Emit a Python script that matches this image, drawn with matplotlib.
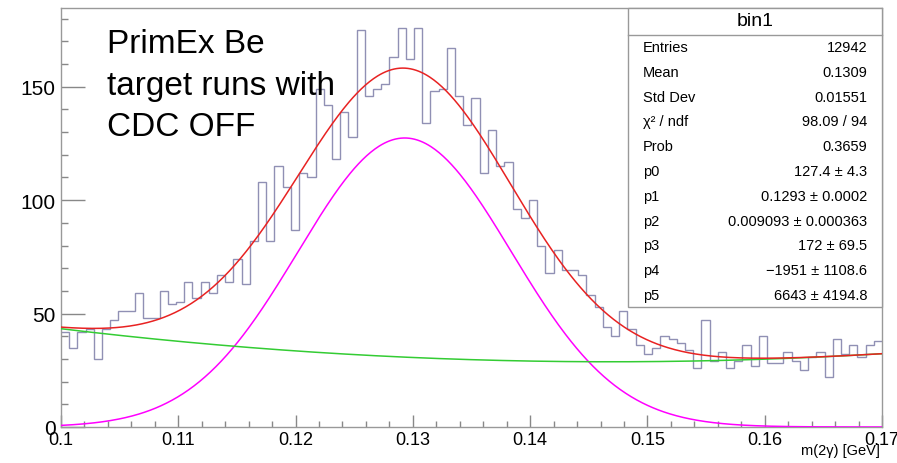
import numpy as np
import matplotlib
matplotlib.use("Agg")
import matplotlib.pyplot as plt

# histogram: 100 bins from 0.1 to 0.17 GeV (counts)
x_lo, x_hi, n_bins = 0.1, 0.17, 100
counts = [
    42, 35, 42, 43, 30, 43, 47, 51, 51, 59,
    48, 48, 60, 54, 55, 64, 57, 64, 59, 67,
    64, 74, 63, 82, 108, 82, 115, 106, 87, 112,
    110, 149, 142, 118, 139, 128, 175, 146, 149, 151,
    163, 176, 162, 176, 134, 148, 149, 167, 146, 133,
    145, 112, 131, 115, 117, 96, 92, 100, 80, 68,
    78, 69, 69, 67, 58, 53, 44, 40, 51, 43,
    36, 32, 35, 40, 39, 37, 34, 26, 47, 29,
    33, 26, 29, 36, 27, 40, 28, 28, 33, 29,
    25, 31, 33, 22, 39, 32, 36, 31, 36, 38,
]

# fit parameters from the stat box: gaus(p0,p1,p2) + pol2(p3,p4,p5)
gaus_pars = [127.4, 0.1293, 0.009093]
pol_pars = [172, -1951, 6643]

stat_labels = ["Entries", "Mean", "Std Dev", "\u03c7\u00b2 / ndf", "Prob",
               "p0", "p1", "p2", "p3", "p4", "p5"]
stat_values = ["12942", "0.1309", "0.01551", "98.09 / 94", "0.3659",
               "127.4 \u00b1 4.3", "0.1293 \u00b1 0.0002",
               "0.009093 \u00b1 0.000363", "172 \u00b1 69.5",
               "\u22121951 \u00b1 1108.6", "6643 \u00b1 4194.8"]

plt.rcParams['font.family'] = ['Liberation Sans', 'DejaVu Sans']

W, H = 897, 464
fig = plt.figure(figsize=(W / 100, H / 100), dpi=100)
ax = fig.add_axes([61 / W, 1 - 428 / H, (882 - 61) / W, (428 - 9) / H])

edges = np.linspace(x_lo, x_hi, n_bins + 1)
ax.stairs(counts, edges, color='#9090b4', lw=1.0, baseline=None, zorder=2)

xf = np.linspace(x_lo, x_hi, 600)
g = gaus_pars[0] * np.exp(-0.5 * ((xf - gaus_pars[1]) / gaus_pars[2]) ** 2)
bkg = pol_pars[0] + pol_pars[1] * xf + pol_pars[2] * xf ** 2
ax.plot(xf, g, color='#ff00ff', lw=1.1, zorder=3)
ax.plot(xf, bkg, color='#33cc33', lw=1.1, zorder=3)
ax.plot(xf, g + bkg, color='#e82222', lw=1.1, zorder=4)

ax.set_xlim(x_lo, x_hi)
ax.set_ylim(0, 184.7)
ax.set_xticks(np.arange(0.1, 0.1701, 0.01))
ax.set_xticklabels(["0.1", "0.11", "0.12", "0.13", "0.14", "0.15", "0.16", "0.17"])
ax.set_xticks(np.arange(0.1, 0.1701, 0.002), minor=True)
ax.set_yticks([0, 50, 100, 150])
ax.set_yticks(np.arange(0, 181, 10), minor=True)
ax.tick_params(axis='x', which='major', direction='in', length=9, width=1,
               color='#888888', labelsize=13, pad=3)
ax.tick_params(axis='x', which='minor', direction='in', length=4.5, width=1,
               color='#888888')
ax.tick_params(axis='y', which='major', direction='in', length=17, width=1,
               color='#888888', labelsize=15, pad=4)
ax.tick_params(axis='y', which='minor', direction='in', length=5, width=1,
               color='#888888')
for s in ax.spines.values():
    s.set_color('#999999')
    s.set_linewidth(1)

ax.text(0.1039, 176, "PrimEx Be\ntarget runs with\nCDC OFF", fontsize=24,
        va='top', ha='left', linespacing=1.45, zorder=5)

fig.text(880 / W, 1 - 451 / H, "m(2\u03b3) [GeV]", ha='right', va='center',
         fontsize=10.5)

# stat box
bx0, bx1, by0, by1 = 628, 882, 9, 308
box = plt.Rectangle((bx0 / W, 1 - by1 / H), (bx1 - bx0) / W, (by1 - by0) / H,
                    transform=fig.transFigure, facecolor='white',
                    edgecolor='#999999', lw=1, zorder=10)
fig.patches.append(box)
fig.add_artist(plt.Line2D([bx0 / W, bx1 / W], [1 - 36 / H, 1 - 36 / H],
                          color='#999999', lw=1, zorder=11))
fig.text((bx0 + bx1) / 2 / W, 1 - 22 / H, "bin1", ha='center', va='center',
         fontsize=14, zorder=12)
for i, (lab, val) in enumerate(zip(stat_labels, stat_values)):
    yy = 1 - (48 + 24.8 * i) / H
    fig.text(643 / W, yy, lab, ha='left', va='center', fontsize=10.5, zorder=12)
    fig.text(867 / W, yy, val, ha='right', va='center', fontsize=10.5, zorder=12)

fig.savefig("out.png", dpi=100)
